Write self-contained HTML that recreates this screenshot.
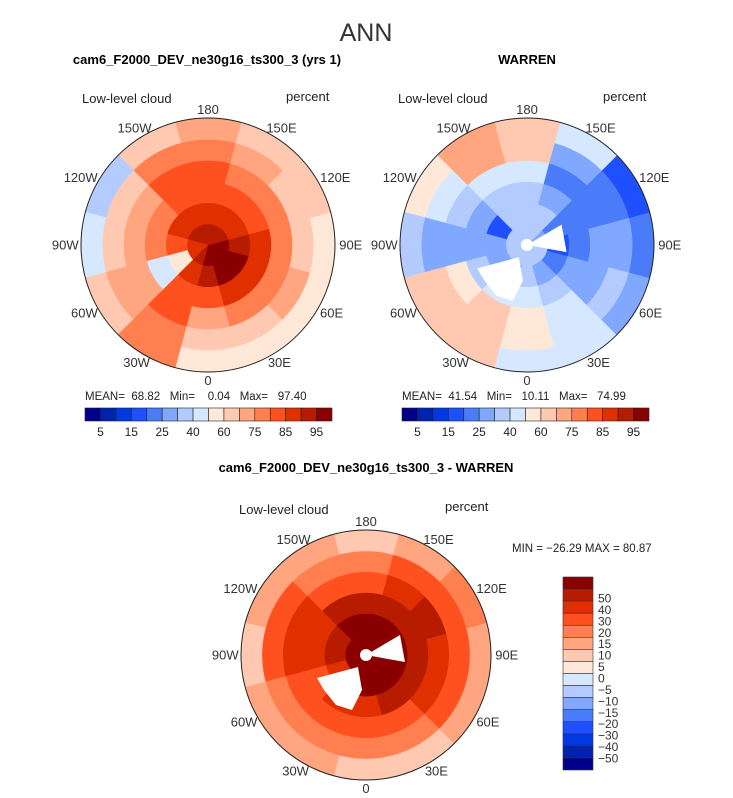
<!DOCTYPE html>
<html><head><meta charset="utf-8"><style>
html,body{margin:0;padding:0;background:#fff;}
svg{display:block;font-family:"Liberation Sans",sans-serif;}
</style></head><body>
<svg id="fig" width="733" height="798" viewBox="0 0 733 798" xmlns="http://www.w3.org/2000/svg">
<text x="366" y="41" text-anchor="middle" font-size="25" fill="#333" font-weight="300">ANN</text>
<text x="207" y="64" text-anchor="middle" font-size="13" font-weight="bold">cam6_F2000_DEV_ne30g16_ts300_3 (yrs 1)</text>
<text x="527" y="64" text-anchor="middle" font-size="13" font-weight="bold">WARREN</text>
<text x="366" y="472" text-anchor="middle" font-size="13" font-weight="bold">cam6_F2000_DEV_ne30g16_ts300_3 - WARREN</text>
<text x="82" y="103" font-size="13" fill="#222">Low-level cloud</text>
<text x="286" y="101" font-size="13" fill="#222">percent</text>
<text x="398" y="103" font-size="13" fill="#222">Low-level cloud</text>
<text x="603" y="101" font-size="13" fill="#222">percent</text>
<text x="239" y="514" font-size="13" fill="#222">Low-level cloud</text>
<text x="445" y="511" font-size="13" fill="#222">percent</text>
<text x="85" y="400" font-size="11.5" fill="#222" xml:space="preserve">MEAN=  68.82   Min=    0.04   Max=   97.40</text>
<text x="402" y="400" font-size="11.5" fill="#222" xml:space="preserve">MEAN=  41.54   Min=   10.11   Max=   74.99</text>
<text x="512" y="552" font-size="11.5" fill="#222">MIN = −26.29 MAX =   80.87</text>
<g id="layer"></g>
</svg>
<script>
const colors=["#00008a","#0022b0","#0039e0","#1e50ff","#4a7bf8","#80a8ff","#b3cbff","#d6e8ff","#ffe8d8","#ffc8b0","#ffa580","#ff7f50","#ff5020","#e03000","#b81c00","#8a0000"];
const absLabels=["5","15","25","40","60","75","85","95"];
const diffLabels=["50","40","30","20","15","10","5","0","−5","−10","−15","−20","−30","−40","−50"];
const lonLabels=["0","30E","60E","90E","120E","150E","180","150W","120W","90W","60W","30W"];
// level index per ring (center->edge) x sector (0,30E,...,30W)
const ctlRings=[
[15,15,15,15,14,14,14,14,14,13,13,14],
[14,15,15,14,13,13,13,13,13,12,8,13],
[12,13,13,13,12,12,12,12,11,11,7,12],
[10,11,11,11,11,11,12,12,10,10,10,12],
[9,9,10,9,9,10,11,11,9,9,10,11],
[8,8,8,8,9,9,10,9,6,7,9,11]];
const obsRings=[
[6,6,6,6,5,6,6,6,6,6,6,6],
[6,5,4,3,4,6,6,6,3,5,5,5],
[7,6,5,4,4,5,6,6,5,5,6,7],
[8,7,5,5,4,4,7,7,6,5,8,9],
[8,7,6,5,4,5,9,10,7,5,9,9],
[7,7,5,4,3,7,9,10,8,6,9,9]];
const diffRings=[
[15,15,15,15,15,15,15,15,15,15,15,15],
[15,15,15,15,15,15,15,15,14,14,13,15],
[13,14,14,14,14,14,14,14,13,13,12,13],
[12,12,13,13,14,13,12,12,13,13,12,12],
[11,11,12,12,12,12,11,11,12,12,11,11],
[9,9,10,10,11,10,9,10,10,9,10,10]];
const NS="http://www.w3.org/2000/svg";
const layer=document.getElementById('layer');
function mk(tag,attrs,parent){const e=document.createElementNS(NS,tag);for(const k in attrs)e.setAttribute(k,attrs[k]);(parent||layer).appendChild(e);return e;}
function pt(cx,cy,r,deg){const a=deg*Math.PI/180;return [cx+r*Math.sin(a),cy+r*Math.cos(a)];}
function drawMap(name,cx,cy,R,rings,holes){
  const g=mk('g',{});
  
  
  const nR=rings.length,nS=rings[0].length;
  for(let i=0;i<nR;i++){for(let j=0;j<nS;j++){
    const r0=R*i/nR,r1=R*(i+1)/nR,a0=j*30-15,a1=j*30+15;
    let d="";
    for(let k=0;k<=6;k++){const p=pt(cx,cy,r1,a0+(a1-a0)*k/6);d+=(k?"L":"M")+p[0].toFixed(1)+","+p[1].toFixed(1);}
    for(let k=6;k>=0;k--){const p=pt(cx,cy,r0,a0+(a1-a0)*k/6);d+="L"+p[0].toFixed(1)+","+p[1].toFixed(1);}
    const c=mk('path',{d:d+"Z",fill:colors[rings[i][j]],stroke:colors[rings[i][j]],'stroke-width':0.6},g);
    
    
  }}
  if(holes){
    const s=R/125;
    const gl=mk('path',{d:`M${cx-49*s},${cy+23*s}L${cx-8*s},${cy+12*s}L${cx-4*s},${cy+35*s}L${cx-14*s},${cy+55*s}L${cx-30*s},${cy+50*s}L${cx-42*s},${cy+35*s}Z`,fill:'#fff'},g);
    
    
    const w=mk('path',{d:`M${cx},${cy}L${cx+34*s},${cy-20*s}L${cx+39*s},${cy+7*s}Z`,fill:'#fff'},g);
    
    
    const dt=mk('circle',{cx:cx,cy:cy,r:6*s,fill:'#fff'},g);
    
    
  }
  const o=mk('circle',{cx:cx,cy:cy,r:R,fill:'none',stroke:'#222','stroke-width':1},g);
  
  
  lonLabels.forEach((t,j)=>{
    const a=j*30*Math.PI/180, sn=Math.sin(a), cs=Math.cos(a);
    const w=t.length*8.5;
    const x=cx+(R+3)*sn+(w/2)*sn;
    const y=cy+(R+3)*cs+5.5*cs+4.7;
    const tx=mk('text',{x:x.toFixed(1),y:y.toFixed(1),'text-anchor':'middle','font-size':13,fill:'#333'},g);
    tx.textContent=t;
    
    
  });
}
drawMap('control-map',208,245,127,ctlRings,false);
drawMap('warren-map',527,245,127,obsRings,true);
drawMap('difference-map',366,655,125,diffRings,true);
function hbar(name,x0,x1,y,h){
  const g=mk('g',{});
  
  
  const w=(x1-x0)/colors.length;
  colors.forEach((c,i)=>{const b=mk('rect',{x:x0+i*w,y:y,width:w,height:h,fill:c,stroke:'#222','stroke-width':0.6},g);
    
    });
  absLabels.forEach((t,i)=>{const tx=mk('text',{x:x0+(2*i+1)*w,y:y+h+15,'text-anchor':'middle','font-size':12,fill:'#222'},g);tx.textContent=t;
    
    });
}
hbar('control-colorbar',85,332,408,13);
hbar('warren-colorbar',402,649,408,13);
(function(){
  const g=mk('g',{});
  
  
  const x=563,y0=577,h=(770-577)/16;
  colors.slice().reverse().forEach((c,i)=>{const b=mk('rect',{x:x,y:y0+i*h,width:30,height:h,fill:c,stroke:'#333','stroke-width':0.6},g);
    
    });
  const step=(758-598)/(diffLabels.length-1);
  diffLabels.forEach((t,i)=>{const tx=mk('text',{x:598,y:(598+i*step+4.5).toFixed(1),'font-size':12,fill:'#333'},g);tx.textContent=t;
    
    });
})();
</script>
</body></html>
